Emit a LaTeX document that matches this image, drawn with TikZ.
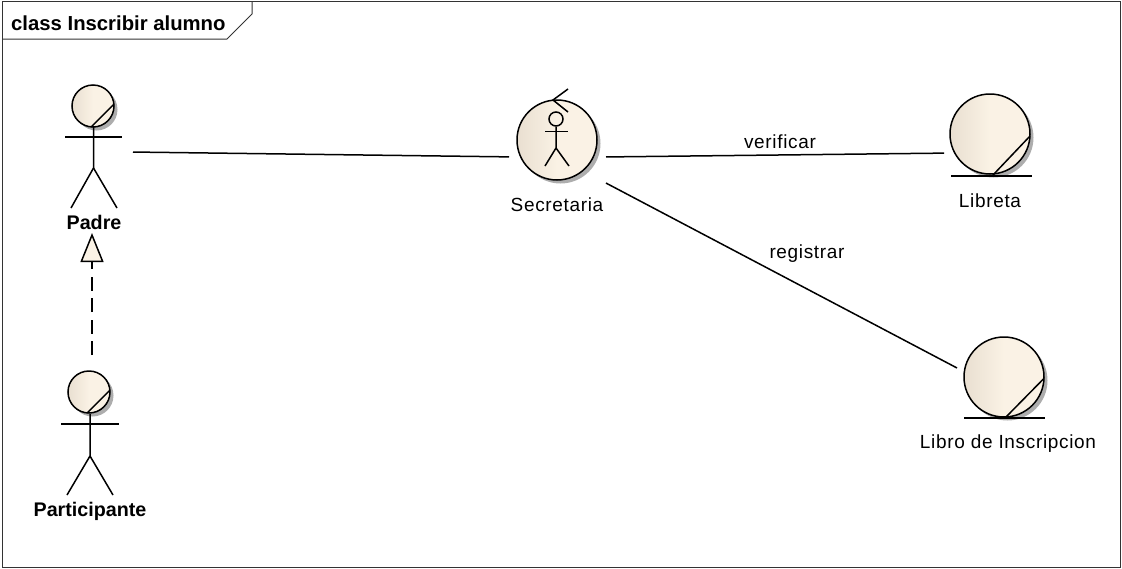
\documentclass[tikz,border=0pt]{standalone}
\usepackage{fontspec}
\setmainfont{Liberation Sans}
\usepackage{tikz}
\usetikzlibrary{arrows.meta}
\usetikzlibrary{shadows}
\definecolor{bodyleft}{HTML}{E9DFD1}
\definecolor{bodyright}{HTML}{FAF2E5}
\tikzstyle{sketch}=[line width=1.5pt, black]
\tikzstyle{bound}=[rectangle, inner sep=0pt, outer sep=0pt]
\tikzstyle{body}=[circle, draw=black, line width=1.5pt, inner sep=0pt, outer sep=0pt,
    left color=bodyleft, right color=bodyright, middle color=bodyright,
    drop shadow={shadow xshift=3.5pt, shadow yshift=-3.5pt, fill=black!32, opacity=1}]
\tikzstyle{lbl}=[font=\fontsize{19}{20}\selectfont\addfontfeatures{LetterSpace=3.5}, inner sep=0pt]
\tikzstyle{lblbold}=[font=\fontsize{19.7}{20}\selectfont\bfseries, inner sep=0pt]

\begin{document}
\begin{tikzpicture}[x=1pt, y=-1pt]
              \useasboundingbox (0,0) rectangle (1122,568);
              \node[bound, minimum width=1118pt, minimum height=566pt, draw=black!80, line width=1pt] (frame) at (561,284.5){};
              \coordinate (tab0) at (2,39);
              \coordinate (tab1) at (227,39);
              \coordinate (tab2) at (252,14);
              \coordinate (tab3) at (252,2);
              \draw[black!80, line width=1pt](tab0) -- (tab1) -- (tab2) -- (tab3);
              \node[lblbold, anchor=west, font=\fontsize{20.3}{20}\selectfont\bfseries] (title) at (11,23){class Inscribir alumno};
              % element bounds, the connectors stop on them
              \node[bound, minimum width=82pt, minimum height=163pt] (padre) at (92,151.5){};
              \node[bound, minimum width=82pt, minimum height=140pt] (participante) at (92,425){};
              \node[bound, minimum width=97pt, minimum height=140pt] (secretaria) at (557.5,157.5){};
              \node[bound, minimum width=92pt, minimum height=100pt] (libreta) at (990,152.6){};
              \node[bound, minimum width=94pt, minimum height=100pt] (libro) at (1004,392.6){};
              % actors
              \node[body, minimum size=42pt] (padre_head) at (93,106){};
              \draw[sketch](padre_head.-95) -- (padre_head.5);
              \draw[sketch](93.5,127) -- (93.5,168) -- (71,208);
              \draw[sketch](93.5,168) -- (117,208);
              \draw[sketch](65,137) -- (122,137);
              \node[lblbold] (padre_lbl) at (94,222){Padre};
              \node[body, minimum size=42pt] (participante_head) at (89,392){};
              \draw[sketch](participante_head.-95) -- (participante_head.5);
              \draw[sketch](90,414) -- (90,456) -- (67,495);
              \draw[sketch](90,456) -- (113,495);
              \draw[sketch](61,424) -- (119,424);
              \node[lblbold] (participante_lbl) at (90,511){Participante};
              % boundary with the small actor
              \node[body, minimum size=80pt] (secretaria_body) at (557,140){};
              \draw[sketch](568,89) -- (553,100) -- (568,112);
              \node[circle, draw=black, line width=1.5pt, minimum size=14pt, inner sep=0pt] (secretaria_head) at (556,119){};
              \draw[sketch](secretaria_head.south) -- (556,148) -- (545,166);
              \draw[sketch](556,148) -- (569,166);
              \draw[sketch](545,131.5) -- (568,131.5);
              \node[lbl] (secretaria_lbl) at (557,205){Secretaria};
              % entities
              \node[body, minimum size=80pt] (libreta_body) at (990,134){};
              \draw[sketch](993,175) -- (libreta_body.-3);
              \draw[sketch](951,176) -- (1032,176);
              \node[lbl] (libreta_lbl) at (990,201){Libreta};
              \node[body, minimum size=80pt] (libro_body) at (1004,377){};
              \draw[sketch](1006,417) -- (libro_body.-2);
              \draw[sketch](964,418) -- (1045,418);
              \node[lbl] (libro_lbl) at (1008,444){Libro de Inscripcion};
              % connectors
              \draw[sketch](padre) -- (secretaria);
              \draw[sketch](secretaria) -- (libreta);
              \draw[sketch](secretaria) -- (libro);
              \node[lbl] (verificar) at (780,142){verificar};
              \node[lbl] (registrar) at (807,254){registrar};
              \draw[sketch, dash pattern=on 14pt off 7.5pt, -{Triangle[length=29pt, width=23pt, open, fill=bodyright]}](participante) -- (padre);
            \end{tikzpicture}
\end{document}
